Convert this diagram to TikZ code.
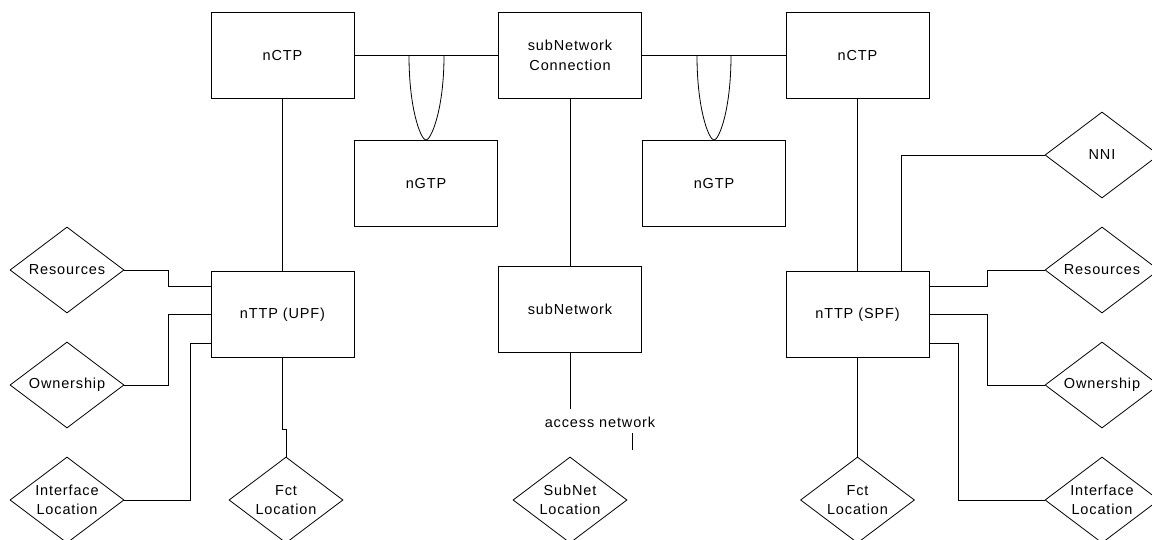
\documentclass[tikz,border=0pt]{standalone}
\usepackage{fontspec}
\setmainfont{Liberation Sans}[LetterSpace=6]
\usetikzlibrary{shapes.geometric}
\begin{document}
\begin{tikzpicture}[x=1pt,y=-1pt,
  line width=0.8pt,
  every node/.style={font=\fontsize{14.5pt}{19.5pt}\selectfont, align=center},
  ent/.style={draw, rectangle, minimum width=143pt, minimum height=86pt, inner sep=0pt},
  rel/.style={draw, diamond, minimum width=114pt, minimum height=86pt, inner sep=0pt, aspect=1.33},
  lbl/.style={inner sep=0pt}]
\useasboundingbox (0,0) rectangle (1152,540);
% entities
\node[ent] (nctpL) at (282.5,55.5) {nCTP};
\node[ent] (snc)   at (570,55.5)   {subNetwork\\Connection};
\node[ent] (nctpR) at (857.5,55.5) {nCTP};
\node[ent] (ngtpL) at (426,183.5)  {nGTP};
\node[ent] (ngtpR) at (714,183.5)  {nGTP};
\node[ent] (upf)   at (282.5,314.5)  {nTTP (UPF)};
\node[ent] (sn)    at (570,309.5)  {subNetwork};
\node[ent] (spf)   at (857.5,314.5)  {nTTP (SPF)};
% relationships
\node[rel] (resL) at (67,270)  {Resources};
\node[rel] (ownL) at (67,385)  {Ownership};
\node[rel] (ifL)  at (67,500)  {Interface\\Location};
\node[rel] (fctL) at (286,500) {Fct\\Location};
\node[rel] (snl)  at (570,500) {SubNet\\Location};
\node[rel] (fctR) at (857.5,500) {Fct\\Location};
\node[rel] (nni)  at (1102,155) {NNI};
\node[rel] (resR) at (1102,270) {Resources};
\node[rel] (ownR) at (1102,385) {Ownership};
\node[rel] (ifR)  at (1102,500) {Interface\\Location};
\node[lbl] (acc) at (600,422) {access network};
% free coordinates
\coordinate (l1) at (409,55.5);
\coordinate (l2) at (444,55.5);
\coordinate (r1) at (697,55.5);
\coordinate (r2) at (731,55.5);
\coordinate (snend) at (570,409);
\coordinate (t1) at (632,433);
\coordinate (t2) at (632,450);
% connectors
\draw (nctpL.east) -- (snc.west);
\draw (snc.east) -- (nctpR.west);
\draw (l1) .. controls (409,110) and (421,140) .. (ngtpL.north)
           .. controls (431,140) and (444,110) .. (l2);
\draw (r1) .. controls (697,110) and (709,140) .. (ngtpR.north)
           .. controls (719,140) and (731,110) .. (r2);
\draw (nctpL.south) -- (upf.north);
\draw (snc.south) -- (sn.north);
\draw (nctpR.south) -- (spf.north);
\draw (sn.south) -- (snend);
\draw (t1) -- (t2);
% left side
\draw (resL.east) -- ++(44,0) |- ([yshift=28.5pt]upf.west);
\draw (ownL.east) -- ++(44,0) |- (upf.west);
\draw (ifL.east) -- ++(66,0) |- ([yshift=-28.5pt]upf.west);
\draw (upf.south) -- ++(0,71) -| (fctL.north);
% right side
\draw ([xshift=43.5pt]spf.north) |- (nni.west);
\draw ([yshift=28.5pt]spf.east) -- ++(58,0) |- (resR.west);
\draw (spf.east) -- ++(58,0) |- (ownR.west);
\draw ([yshift=-28.5pt]spf.east) -- ++(29,0) |- (ifR.west);
\draw (spf.south) -- (fctR.north);
\end{tikzpicture}
\end{document}
